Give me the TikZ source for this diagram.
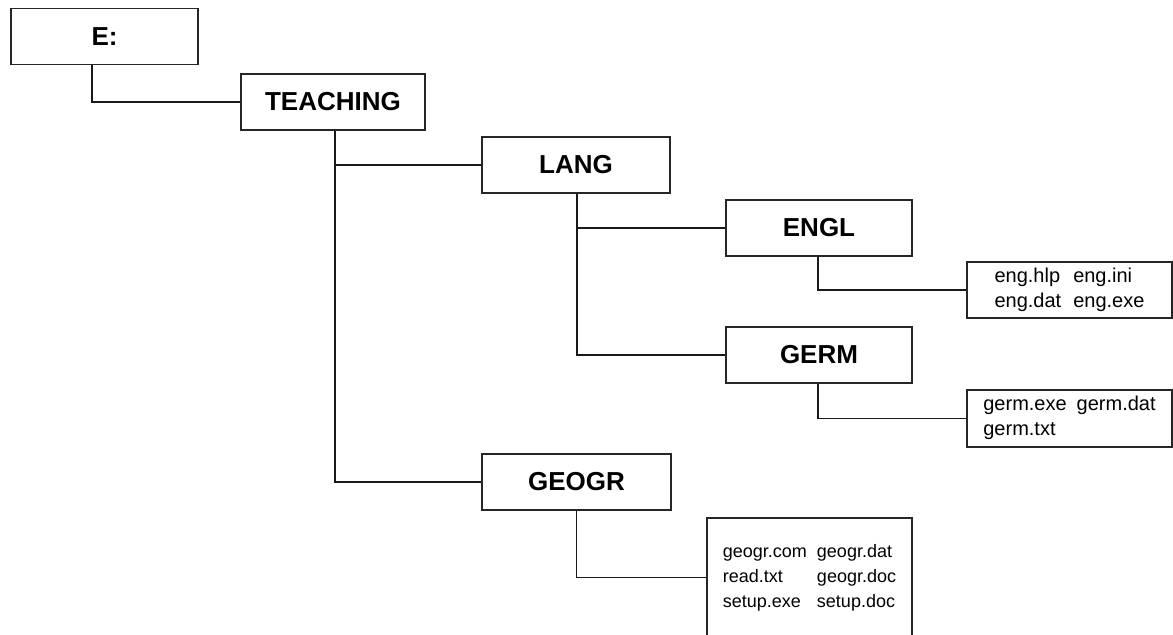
\documentclass[tikz,border=0pt]{standalone}
\usepackage{fontspec}
\setmainfont{Liberation Sans}

\begin{document}
\begin{tikzpicture} [
        x=0.5pt, y=-0.5pt,
        folder/.style={draw=black!85, line width=0.7pt, minimum width=93pt, minimum height=28pt, inner sep=0pt, font=\fontsize{13}{15}\selectfont\bfseries},
        files/.style={draw=black!85, line width=0.6pt, minimum width=102.5pt, inner sep=0pt},
        link/.style={line width=0.9pt, black!90}
    ]
        \path[use as bounding box] (0,0) rectangle (1173,635);
        \clip (0,0) rectangle (1173,635);

        \node [folder, minimum width=93.5pt] (e)        at (104.5, 36.5) {E:};
        \node [folder, minimum width=92pt]   (teaching) at (333, 102)    {TEACHING};
        \node [folder, minimum width=94pt]   (lang)     at (576, 165)    {LANG};
        \node [folder]                       (engl)     at (819, 228)    {ENGL};
        \node [folder]                       (germ)     at (819, 355)    {GERM};
        \node [folder, minimum width=94.5pt] (geogr)    at (576.5, 482)  {GEOGR};

        \node [files, minimum height=28pt, font=\fontsize{10}{12.5}\selectfont] (engfiles) at (1069.5, 290) {
                \begin{tabular}{@{}l@{\hspace{6pt}}l@{}}
                    eng.hlp & eng.ini \\
                    eng.dat & eng.exe
                \end{tabular}
            };
        \node [files, minimum height=28.5pt, font=\fontsize{10}{12.5}\selectfont] (germfiles) at (1069.5, 418.5) {
                \begin{tabular}{@{}l@{\hspace{5pt}}l@{}}
                    germ.exe & germ.dat \\
                    germ.txt &
                \end{tabular}
            };
        \node [files, minimum height=59.5pt, font=\fontsize{9}{12.5}\selectfont] (geogrfiles) at (809.5, 577.5) {
                \begin{tabular}{@{}l@{\hspace{5pt}}l@{}}
                    geogr.com & geogr.dat \\
                    read.txt  & geogr.doc \\
                    setup.exe & setup.doc
                \end{tabular}
            };

        \draw [link] (e.south) ++(-12.5, 0) |- (teaching.west);

        \draw [link] (teaching.south) ++(2, 0) coordinate (tjoin) |- (geogr.west);
        \draw [link] (tjoin |- lang.west) -- (lang.west);

        \draw [link] (lang.south) ++(1, 0) coordinate (ljoin) |- (germ.west);
        \draw [link] (ljoin |- engl.west) -- (engl.west);

        \draw [link] (engl.south) ++(-1, 0) |- (engfiles.west);
        \draw [link] (germ.south) ++(-1, 0) |- (germfiles.west);
        \draw [link] (geogr.south) |- (geogrfiles.west);
    \end{tikzpicture}
\end{document}
